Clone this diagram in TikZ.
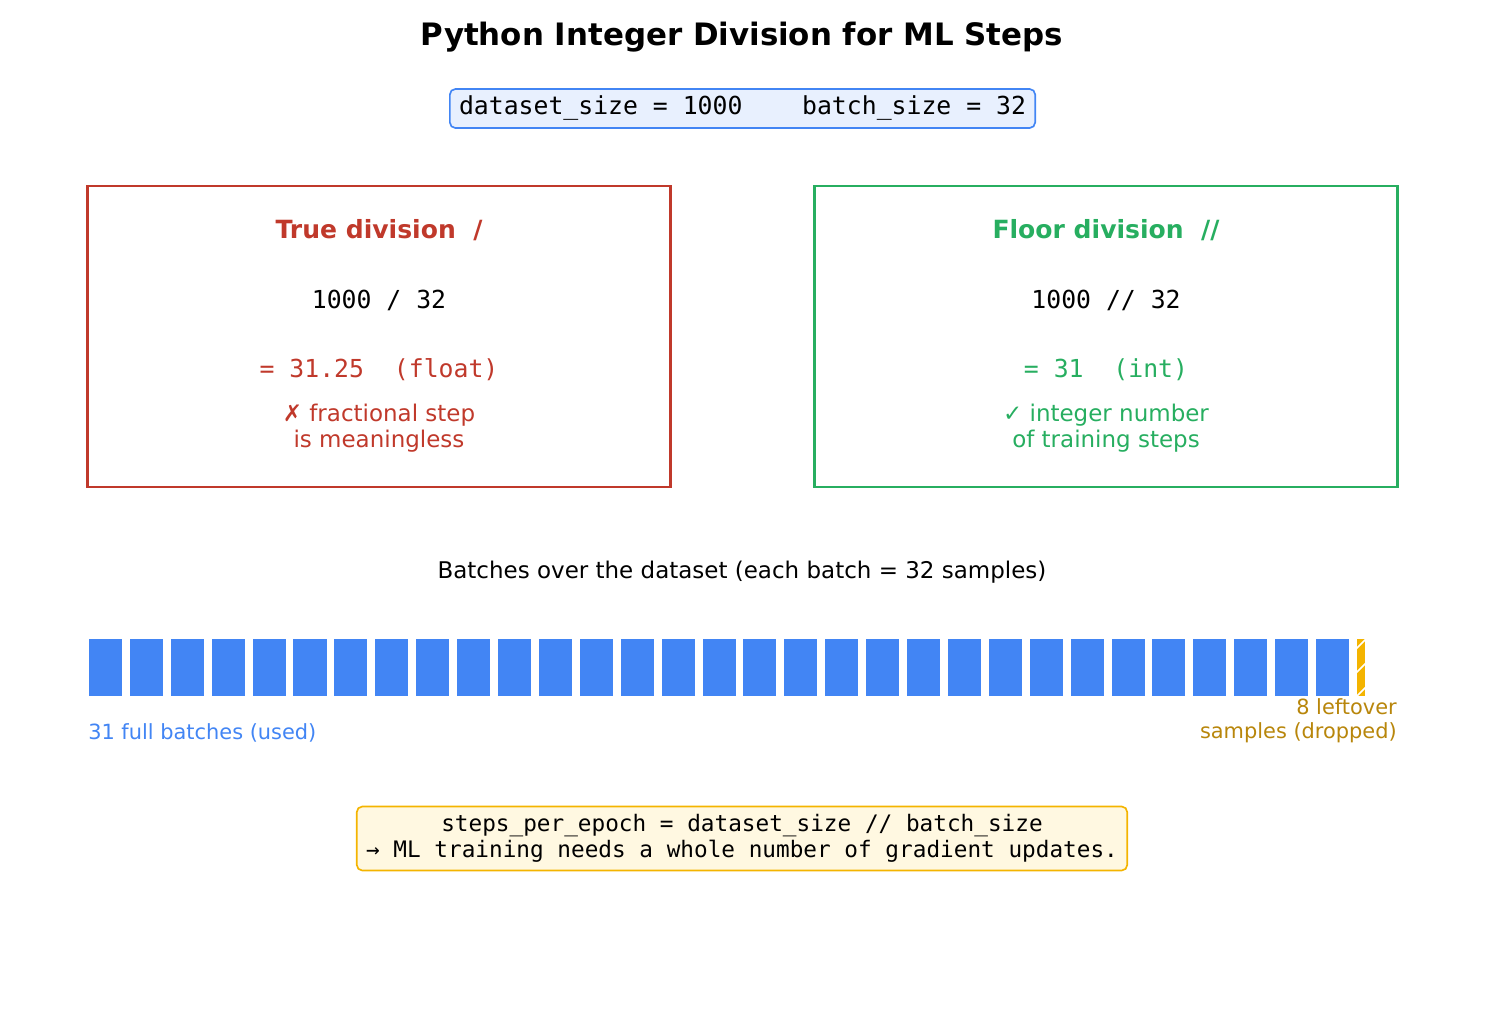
\documentclass[tikz,border=0pt]{standalone}
\usepackage{fontspec}
\setmainfont{DejaVu Sans}
\setmonofont{DejaVu Sans Mono}
\usetikzlibrary{positioning}
\definecolor{truered}{HTML}{C0392B}
\definecolor{floorgreen}{HTML}{27AE60}
\definecolor{batchblue}{HTML}{4285F4}
\definecolor{leftyellow}{HTML}{F4B400}
\definecolor{leftgold}{HTML}{B8860B}
\definecolor{varsfill}{HTML}{E8F0FE}
\definecolor{notefill}{HTML}{FFF8E1}
\tikzset{
    every node/.style={
        inner sep=0pt,
        align=center},
    title/.style={font=\fontsize{22.3}{26}\selectfont\bfseries},
    head/.style={font=\fontsize{18.1}{22}\selectfont\bfseries},
    code/.style={font=\fontsize{17.9}{22}\selectfont\ttfamily},
    note/.style={font=\fontsize{16.6}{18.7}\selectfont},
    small/.style={font=\fontsize{15.1}{17.3}\selectfont},
    divbox/.style={
        draw,
        line width=2pt,
        minimum width=5.82in,
        minimum height=3.01in},
    batch/.style={
        fill=batchblue,
        minimum width=0.33in,
        minimum height=0.57in},
    codebox/.style={
        draw,
        rounded corners=4pt,
        line width=1.2pt}}

\begin{document}
\begin{tikzpicture}[x=0.01in,y=-0.01in]
    \path[use as bounding box] (0,0) rectangle (1485,1035);

    \node[title] (title) at (742,37) {Python Integer Division for ML Steps};

    % the two variables
    \node[codebox,code,draw=batchblue,fill=varsfill,minimum width=5.85in,minimum height=0.39in] (vars) at (742.5,108.5)
        {dataset\_size = 1000\ \ \ \ batch\_size = 32};

    % true division
    \node[divbox,draw=truered] (truebox) at (379,336.5) {};
    \node[head,text=truered] (truehead) at (379,230) {True division\ \ /};
    \node[code] (trueexpr) at (379,300) {1000 / 32};
    \node[code,text=truered] (trueres) at (379,370) {= 31.25\ \ (float)};
    \node[note,text=truered] (truenote) at (379,428) {✗ fractional step\\is meaningless};

    % floor division
    \node[divbox,draw=floorgreen] (floorbox) at (1106,336.5) {};
    \node[head,text=floorgreen] (floorhead) at (1106,230) {Floor division\ \ //};
    \node[code] (floorexpr) at (1106,300) {1000 // 32};
    \node[code,text=floorgreen] (floorres) at (1106,370) {= 31\ \ (int)};
    \node[note,text=floorgreen] (floornote) at (1106,428) {✓ integer number\\of training steps};

    % batches
    \node[note] (batchhead) at (742,572) {Batches over the dataset (each batch = 32 samples)};
    \foreach \i in {0,...,30}
        \node[batch] (b\i) at ({105.5+40.9*\i},667.5) {};
    \node[fill=leftyellow,minimum width=0.08in,minimum height=0.57in] (left) at (1361,667.5) {};
    \begin{scope}
        \clip (left.south west) rectangle (left.north east);
        \foreach \k in {0,...,3}
            \draw[white,line width=1.2pt] (1355,{650+24*\k}) -- ++(14,-14);
    \end{scope}
    \node[small,text=batchblue,anchor=west] (used) at (88,733) {31 full batches (used)};
    \node[small,text=leftgold,anchor=east,align=right] (dropped) at (1397,721) {8 leftover\\samples (dropped)};

    % summary
    \node[codebox,draw=leftyellow,fill=notefill,minimum width=7.70in,minimum height=0.64in,
        font=\fontsize{16.4}{18.7}\selectfont\ttfamily] (summary) at (742,838.5)
        {steps\_per\_epoch = dataset\_size // batch\_size\\→ ML training needs a whole number of gradient updates.};
\end{tikzpicture}
\end{document}
